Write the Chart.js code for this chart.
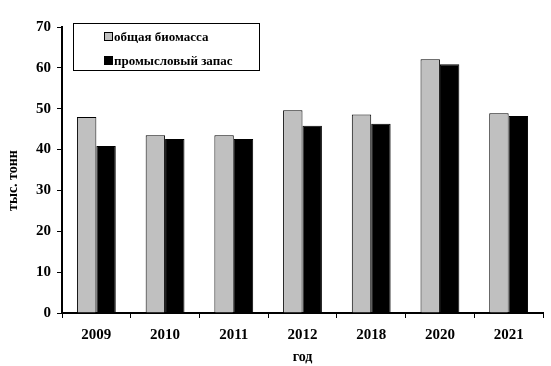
<!DOCTYPE html>
<html lang="ru">
<head>
    <meta charset="UTF-8">
    <title>Биомасса и промысловый запас</title>
    <script src="https://cdn.jsdelivr.net/npm/chart.js"></script>
    <style>
        body { margin: 0; background: #ffffff; }
        #wrap { width: 551px; height: 366px; }
    </style>
</head>
<body>
    <div id="wrap"><canvas id="chart" width="551" height="366"></canvas></div>

    <script>
        // данные
        const years = ['2009', '2010', '2011', '2012', '2018', '2020', '2021'];
        const biomass = [48.0, 43.5, 43.5, 49.6, 48.6, 62.1, 48.9];
        const stock = [40.9, 42.6, 42.6, 45.8, 46.3, 60.9, 48.2];
        const yTicks = [0, 10, 20, 30, 40, 50, 60, 70];

        const serif = '"Liberation Serif", "Times New Roman", serif';

        // легенда в рамке внутри области графика
        const boxLegend = {
            id: 'boxLegend',
            afterDraw(chart) {
                const c = chart.ctx;
                const x0 = 73, y0 = 23, w = 186, h = 47;
                c.save();
                c.strokeStyle = '#000';
                c.lineWidth = 1;
                c.strokeRect(x0 + 0.5, y0 + 0.5, w, h);
                c.font = 'bold 13px ' + serif;
                c.textBaseline = 'middle';
                chart.data.datasets.forEach((ds, i) => {
                    const y = y0 + 14 + i * 24;
                    c.fillStyle = ds.backgroundColor;
                    c.fillRect(104, y - 5, 9, 9);
                    c.strokeRect(104.5, y - 4.5, 8, 8);
                    c.fillStyle = '#000';
                    c.fillText(ds.label, 114, y + 1);
                });
                c.restore();
            }
        };

        new Chart(document.getElementById('chart'), {
            type: 'bar',
            data: {
                labels: years,
                datasets: [
                    { label: 'общая биомасса', data: biomass, backgroundColor: '#c0c0c0', borderColor: '#000', borderWidth: 1 },
                    { label: 'промысловый запас', data: stock, backgroundColor: '#000000', borderColor: '#000', borderWidth: 1 }
                ]
            },
            options: {
                responsive: false,
                animation: false,
                categoryPercentage: 0.565,
                barPercentage: 1.0,
                layout: { padding: { left: 0, right: 8, top: 27, bottom: 0 } },
                plugins: { legend: { display: false }, tooltip: { enabled: false } },
                scales: {
                    x: {
                        grid: { display: true, drawOnChartArea: false, drawTicks: true, tickLength: 5, color: '#000', lineWidth: 1, offset: true },
                        border: { display: true, color: '#000', width: 2 },
                        ticks: { color: '#000', font: { family: serif, size: 15, weight: 'bold' }, padding: 8 },
                        title: { display: true, text: 'год', color: '#000', font: { family: serif, size: 14, weight: 'bold' }, padding: { top: 1, bottom: 0 } },
                        afterFit: s => { s.height = 53; }
                    },
                    y: {
                        min: 0,
                        max: 70,
                        afterBuildTicks: s => { s.ticks = yTicks.map(v => ({ value: v })); },
                        grid: { display: true, drawOnChartArea: false, drawTicks: true, tickLength: 5, color: '#000', lineWidth: 1 },
                        border: { display: true, color: '#000', width: 2 },
                        ticks: { color: '#000', font: { family: serif, size: 15, weight: 'bold' }, padding: 6 },
                        title: { display: true, text: 'тыс. тонн      ', color: '#000', font: { family: serif, size: 14, weight: 'bold' }, padding: { top: 5, bottom: 0 } },
                        afterFit: s => { s.width = 62; }
                    }
                }
            },
            plugins: [boxLegend]
        });
    </script>
</body>
</html>
